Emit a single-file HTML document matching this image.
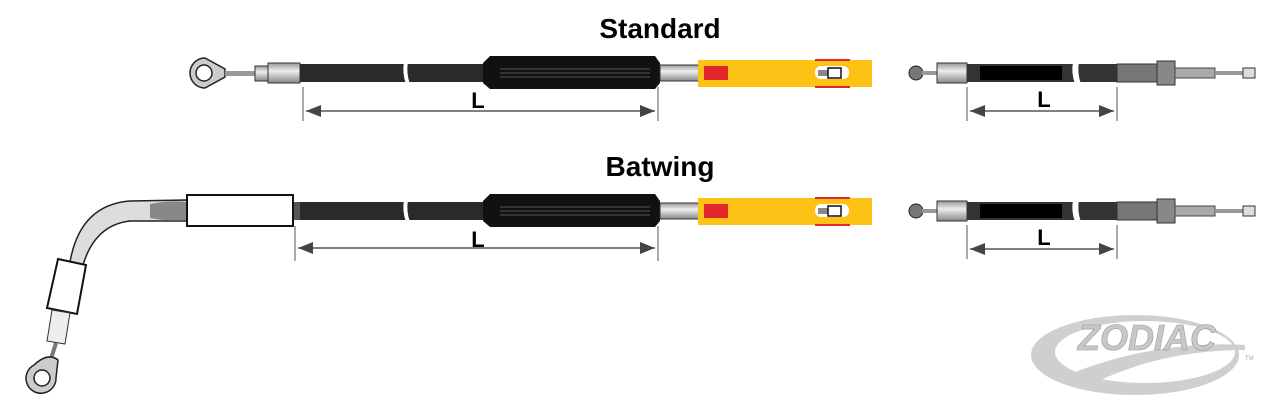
<!DOCTYPE html>
<html><head><meta charset="utf-8"><style>
html,body{margin:0;padding:0;background:#fff;}
svg{display:block;}
text{font-family:"Liberation Sans",sans-serif;}
</style></head><body>
<svg width="1280" height="411" viewBox="0 0 1280 411" xmlns="http://www.w3.org/2000/svg">
<defs>
<marker id="al" markerWidth="10" markerHeight="8" refX="0" refY="4" orient="auto"><path d="M10,0 L0,4 L10,8 Z" fill="#444"/></marker>
<marker id="ar" markerWidth="10" markerHeight="8" refX="10" refY="4" orient="auto"><path d="M0,0 L10,4 L0,8 Z" fill="#444"/></marker>
<linearGradient id="met" x1="0" y1="0" x2="0" y2="1"><stop offset="0" stop-color="#999"/><stop offset=".4" stop-color="#eee"/><stop offset="1" stop-color="#888"/></linearGradient>
<g id="mid">
  <rect x="300" y="-9" width="185" height="18" fill="#2a2a2a"/>
  <path d="M404,-11 Q402,0 406,11 L410,11 Q406,0 408,-11 Z" fill="#fff"/>
  <path d="M483,-10 L490,-17 L655,-17 L660,-10 L660,10 L655,16 L490,16 L483,10 Z" fill="#111"/>
  <line x1="500" y1="-4" x2="650" y2="-4" stroke="#555" stroke-width="1"/>
  <line x1="500" y1="0" x2="650" y2="0" stroke="#555" stroke-width="1"/>
  <line x1="500" y1="4" x2="650" y2="4" stroke="#555" stroke-width="1"/>
  <rect x="660" y="-8" width="40" height="16" fill="url(#met)" stroke="#333"/>
  <rect x="698" y="-13" width="174" height="27" fill="#fcc316"/>
  <rect x="704" y="-7" width="24" height="14" fill="#e4262a"/>
  <rect x="815" y="-14" width="35" height="2" fill="#e4262a"/>
  <rect x="815" y="13" width="35" height="2" fill="#e4262a"/>
  <rect x="815" y="-7" width="34" height="13" rx="6" fill="#fff"/>
  <rect x="818" y="-3" width="10" height="6" fill="#888"/>
  <rect x="828" y="-5" width="13" height="10" fill="#fff" stroke="#111" stroke-width="1.5"/>
</g>
<g id="right">
  <circle cx="916" cy="0" r="7" fill="#777" stroke="#222"/>
  <rect x="922" y="-2" width="16" height="4" fill="#999"/>
  <rect x="937" y="-10" width="30" height="20" fill="url(#met)" stroke="#333"/>
  <rect x="967" y="-9" width="150" height="18" fill="#333"/>
  <rect x="980" y="-7" width="82" height="14" fill="#000"/>
  <path d="M1073,-11 Q1071,0 1075,11 L1081,11 Q1077,0 1079,-11 Z" fill="#fff"/>
  <rect x="1117" y="-9" width="40" height="18" fill="#777" stroke="#333"/>
  <rect x="1157" y="-12" width="18" height="24" fill="#888" stroke="#333"/>
  <rect x="1175" y="-5" width="40" height="10" fill="#aaa" stroke="#444"/>
  <rect x="1215" y="-2" width="28" height="4" fill="#999"/>
  <rect x="1243" y="-5" width="12" height="10" fill="#ddd" stroke="#333"/>
  <line x1="967" y1="14" x2="967" y2="48" stroke="#555"/>
  <line x1="1117" y1="14" x2="1117" y2="48" stroke="#555"/>
  <line x1="970" y1="38" x2="1114" y2="38" stroke="#555" stroke-width="1.5" marker-start="url(#al)" marker-end="url(#ar)"/>
  <text x="1044" y="34" font-size="22" font-weight="bold" text-anchor="middle">L</text>
</g>
</defs>

<text x="660" y="38" font-size="28" font-weight="bold" text-anchor="middle">Standard</text>
<text x="660" y="176" font-size="28" font-weight="bold" text-anchor="middle">Batwing</text>

<g transform="translate(0,73)">
  <path d="M205,-15 A15,15 0 1,0 205,15 L225,4 L225,-4 Z" fill="#ccc" stroke="#222" stroke-width="1.5"/>
  <circle cx="204" cy="0" r="8" fill="#fff" stroke="#222" stroke-width="1.5"/>
  <rect x="225" y="-2" width="30" height="5" fill="#999"/>
  <rect x="255" y="-7" width="14" height="15" fill="url(#met)" stroke="#333"/>
  <rect x="268" y="-10" width="32" height="20" fill="url(#met)" stroke="#333"/>
  <use href="#mid"/>
  <line x1="303" y1="14" x2="303" y2="48" stroke="#555"/>
  <line x1="658" y1="14" x2="658" y2="48" stroke="#555"/>
  <line x1="306" y1="38" x2="655" y2="38" stroke="#555" stroke-width="1.5" marker-start="url(#al)" marker-end="url(#ar)"/>
  <text x="478" y="35" font-size="22" font-weight="bold" text-anchor="middle">L</text>
  <use href="#right"/>
</g>

<g transform="translate(0,211)">
  <rect x="293" y="-9" width="10" height="18" fill="#555"/>
  <use href="#mid"/>
  <line x1="295" y1="15" x2="295" y2="50" stroke="#555"/>
  <line x1="658" y1="15" x2="658" y2="50" stroke="#555"/>
  <line x1="298" y1="37" x2="655" y2="37" stroke="#555" stroke-width="1.5" marker-start="url(#al)" marker-end="url(#ar)"/>
  <text x="478" y="36" font-size="22" font-weight="bold" text-anchor="middle">L</text>
  <use href="#right"/>
</g>
<path d="M187,200 L130,201 Q80,205 70,262 L83,265 Q95,225 130,221 L187,221 Z" fill="#ddd" stroke="#222" stroke-width="1.5"/>
<path d="M150,204 Q170,200 187,202 L187,220 Q170,222 150,218 Z" fill="#888"/>
<rect x="187" y="195" width="106" height="31" fill="#fff" stroke="#111" stroke-width="2"/>
<polygon points="58,259 86,265 77,314 47,308" fill="#fff" stroke="#111" stroke-width="2"/>
<polygon points="52,310 70,313 65,344 47,341" fill="#eee" stroke="#333" stroke-width="1"/>
<line x1="56" y1="343" x2="50" y2="362" stroke="#777" stroke-width="4"/>
<path d="M34,365 Q48,352 58,360 L56,378 A15,15 0 1,1 34,365 Z" fill="#ccc" stroke="#222" stroke-width="1.5"/>
<circle cx="42" cy="378" r="8" fill="#fff" stroke="#222" stroke-width="1.5"/>

<ellipse cx="1135" cy="355" rx="104" ry="40" fill="#cfcfcf"/>
<ellipse cx="1145" cy="352" rx="90" ry="31" fill="#fff"/>
<path d="M1060,378 Q1150,340 1245,345 L1245,350 Q1160,350 1090,385 Z" fill="#cfcfcf"/>
<text x="1078" y="350" font-size="36" font-weight="bold" font-style="italic" fill="#c8c8c8" stroke="#999" stroke-width="0.6">ZODIAC</text>
<text x="1245" y="360" font-size="6" fill="#aaa">TM</text>
</svg>
</body></html>
